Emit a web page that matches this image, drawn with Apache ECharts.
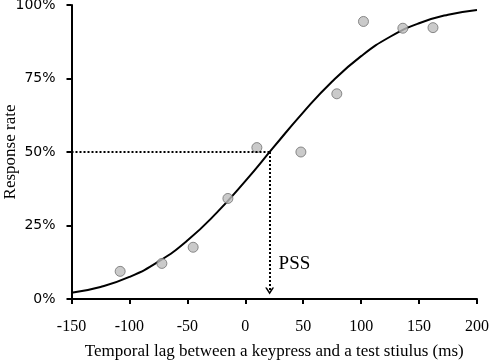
<!DOCTYPE html>
<html>
<head>
<meta charset="utf-8">
<script src="https://cdn.jsdelivr.net/npm/echarts@6/dist/echarts.min.js"></script>
<style>
  html, body { margin: 0; padding: 0; background: #fff; }
  #chart { width: 490px; height: 362px; }
</style>
</head>
<body>
<div id="chart"></div>
<script>
// observed response rates (scatter)
const lagObs = [-108, -72, -45, -15, 10, 48, 79, 102, 136, 162];
const rateObs = [9.4, 12.1, 17.6, 34.2, 51.5, 50.0, 69.8, 94.4, 92.1, 92.3];

// fitted curve, every 25 ms
const lagFit = [-150, -125, -100, -75, -50, -25, 0, 25, 50, 75, 100, 125, 150, 175, 200];
const rateFit = [2.1, 4.1, 7.5, 12.7, 19.9, 29.2, 40.1, 51.9, 63.5, 74.0, 82.6, 89.2, 93.8, 96.7, 98.3];

const pss = 21;

const chart = echarts.init(document.getElementById("chart"));
const serif = "Liberation Serif";

chart.setOption({
  animation: false,
  grid: {
    left: 71.5, right: 13, top: 5, bottom: 63,
    containLabel: false,
    outerBoundsMode: "none"
  },
  xAxis: {
    type: "value",
    min: -150,
    max: 200,
    interval: 50,
    name: "Temporal lag between a keypress and a test stiulus (ms)",
    nameLocation: "middle",
    nameGap: 44,
    nameMoveOverlap: false,
    nameTextStyle: { fontFamily: serif, fontSize: 17, color: "#000" },
    axisLine: { show: true, onZero: false, lineStyle: { color: "#000", width: 2 } },
    axisTick: { show: true, length: 5, lineStyle: { color: "#000", width: 2 } },
    axisLabel: { margin: 20, fontFamily: serif, fontSize: 16, color: "#000" },
    splitLine: { show: false }
  },
  yAxis: {
    type: "value",
    min: 0,
    max: 100,
    interval: 25,
    name: "Response rate",
    nameLocation: "middle",
    nameGap: 52,
    nameMoveOverlap: false,
    nameTextStyle: { fontFamily: serif, fontSize: 17, color: "#000" },
    axisLine: { show: true, onZero: false, lineStyle: { color: "#000", width: 2 } },
    axisTick: { show: true, length: 5, lineStyle: { color: "#000", width: 2 } },
    axisLabel: {
      margin: 16,
      fontFamily: "DejaVu Sans",
      fontSize: 14,
      color: "#000",
      formatter: "{value}%"
    },
    splitLine: { show: false }
  },
  series: [
    {
      name: "fit",
      type: "line",
      smooth: true,
      symbol: "none",
      data: lagFit.map((x, i) => [x, rateFit[i]]),
      lineStyle: { color: "#000", width: 2 },
      z: 2
    },
    {
      name: "guides",
      type: "line",
      data: [],
      markLine: {
        silent: true,
        animation: false,
        label: { show: false },
        lineStyle: { color: "#000", width: 2, type: [2, 2] },
        data: [
          [
            { coord: [-150, 50], symbol: "none" },
            { coord: [pss, 50], symbol: "none" }
          ],
          [
            { coord: [pss, 50], symbol: "none" },
            {
              coord: [pss, 2.7],
              symbol: "path://M0,10 L5,0 L10,10 L8,10 L5,4 L2,10 Z",
              symbolSize: [9, 7]
            }
          ]
        ]
      },
      markPoint: {
        silent: true,
        symbol: "circle",
        symbolSize: 0,
        label: {
          show: true,
          formatter: "PSS",
          position: "right",
          distance: 9,
          fontFamily: serif,
          fontSize: 19,
          color: "#000"
        },
        data: [{ coord: [pss, 12] }]
      }
    },
    {
      name: "observed",
      type: "scatter",
      symbol: "circle",
      symbolSize: 10,
      data: lagObs.map((x, i) => [x, rateObs[i]]),
      itemStyle: { color: "#bdbdbd", borderColor: "#707070", borderWidth: 1 },
      z: 3
    }
  ]
});
</script>
</body>
</html>
